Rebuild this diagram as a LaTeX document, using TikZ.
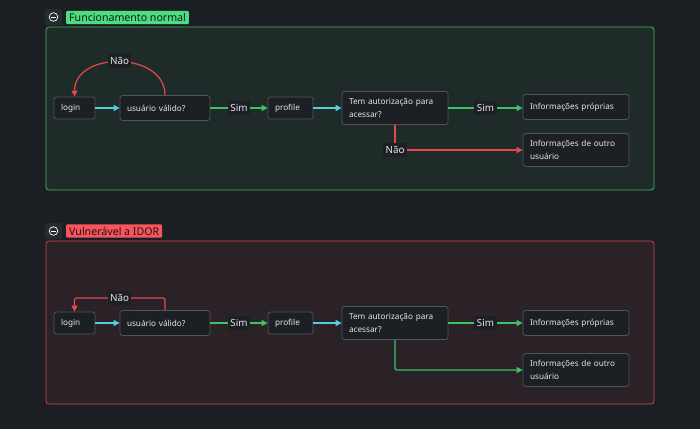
\documentclass[tikz,border=0pt]{standalone}
\usepackage{fontspec}
\setmainfont{Noto Sans}
\usetikzlibrary{arrows.meta}
\definecolor{bg}{HTML}{1B1E23}
\definecolor{gframe}{HTML}{3FB95F}
\definecolor{gfill}{HTML}{1F2B28}
\definecolor{rframe}{HTML}{D9434B}
\definecolor{rfill}{HTML}{2A2226}
\definecolor{boxfill}{HTML}{1C1F24}
\definecolor{boxline}{HTML}{50555C}
\definecolor{txt}{HTML}{E4E6E8}
\definecolor{ecyan}{HTML}{4FD1DD}
\definecolor{egreen}{HTML}{3DC266}
\definecolor{ered}{HTML}{E5484D}
\definecolor{glabel}{HTML}{4ADE80}
\definecolor{rlabel}{HTML}{F7545C}
\definecolor{iconbg}{HTML}{262B30}
\tikzset{
  box/.style={draw=boxline, fill=boxfill, rounded corners=2.5pt, line width=0.8pt,
    text=txt, font=\fontsize{8.2}{12.5}\selectfont, align=left, inner xsep=7pt, inner ysep=2pt, anchor=center},
  edge/.style={line width=1.2pt, -{Triangle[length=6pt,width=6pt]}},
  lbl/.style={fill=boxfill, text=txt, font=\fontsize{9.8}{11}\selectfont, inner xsep=2.5pt, inner ysep=3pt},
  grp/.style={font=\fontsize{10.6}{12}\selectfont, text=black!90, inner xsep=3pt, inner ysep=2.5pt, rounded corners=1pt, anchor=west},
}
\begin{document}
\begin{tikzpicture}[x=1pt,y=-1pt]
\fill[bg] (0,0) rectangle (700,429);
\useasboundingbox (0,0) rectangle (700,429);
% frames
\draw[gframe, fill=gfill, line width=0.8pt, rounded corners=3pt] (46,27) rectangle (654,190);
\draw[rframe, fill=rfill, line width=0.8pt, rounded corners=3pt] (46,241) rectangle (654,404);
% dots
\foreach \x in {5,15,...,695} \foreach \y in {5,15,...,425} \fill[white, opacity=0.08] (\x,\y) circle (0.45pt);
% headers
\fill[iconbg, rounded corners=1pt] (45,9) rectangle (62,25);
\draw[white!75, line width=0.7pt] (53.5,17) circle (4.3pt);
\draw[white!75, line width=0.7pt] (51.2,17) -- (55.8,17);
\node[grp, fill=glabel] (h1) at (66,17.5) {Funcionamento normal};
\fill[iconbg, rounded corners=1pt] (45,223) rectangle (62,239);
\draw[white!75, line width=0.7pt] (53.5,231) circle (4.3pt);
\draw[white!75, line width=0.7pt] (51.2,231) -- (55.8,231);
\node[grp, fill=rlabel] (h2) at (66,231) {Vulnerável a IDOR};

% ---------- group 1 ----------
\node[box, text width=27pt, minimum height=22pt] (l1) at (74.5,108) {login};
\node[box, text width=76pt, minimum height=25pt] (u1) at (165,108) {usuário válido?};
\node[box, text width=31pt, minimum height=22pt] (p1) at (290.5,108) {profile};
\node[box, text width=92pt, minimum height=33pt] (t1) at (395,108) {Tem autorização para\\acessar?};
\node[box, text width=92pt, minimum height=25pt] (i1) at (576,107) {Informações próprias};
\node[box, text width=92pt, minimum height=33pt] (o1) at (576,150) {Informações de outro\\usuário};

\draw[edge, ecyan] (l1) -- (u1);
\draw[edge, egreen] (u1) -- node[lbl] {Sim} (p1);
\draw[edge, ecyan] (p1) -- (t1);
\draw[edge, egreen] (t1.east) -- node[lbl] {Sim} (t1.east -| i1.west);
\draw[edge, ered] (t1.south) |- node[lbl, pos=0.5] {Não} (o1.west);
\draw[edge, ered] (u1.north) .. controls (165,51) and (74.5,51) .. (l1.north);
\node[lbl] (n1) at (119.5,61) {Não};

% ---------- group 2 ----------
\node[box, text width=27pt, minimum height=22pt] (l2) at (74.5,323) {login};
\node[box, text width=76pt, minimum height=25pt] (u2) at (165,323) {usuário válido?};
\node[box, text width=31pt, minimum height=22pt] (p2) at (290.5,323) {profile};
\node[box, text width=92pt, minimum height=33pt] (t2) at (395,323) {Tem autorização para\\acessar?};
\node[box, text width=92pt, minimum height=25pt] (i2) at (576,323) {Informações próprias};
\node[box, text width=92pt, minimum height=33pt] (o2) at (576,370) {Informações de outro\\usuário};

\draw[edge, ecyan] (l2) -- (u2);
\draw[edge, egreen] (u2) -- node[lbl] {Sim} (p2);
\draw[edge, ecyan] (p2) -- (t2);
\draw[edge, egreen] (t2) -- node[lbl] {Sim} (i2);
\draw[edge, egreen, rounded corners=2pt] (t2.south) |- (o2.west);
\coordinate (c2) at (119.5,298);
\draw[edge, ered, rounded corners=2pt] (u2.north) |- (c2) -| (l2.north);
\node[lbl] (n2) at (c2) {Não};
\end{tikzpicture}
\end{document}
